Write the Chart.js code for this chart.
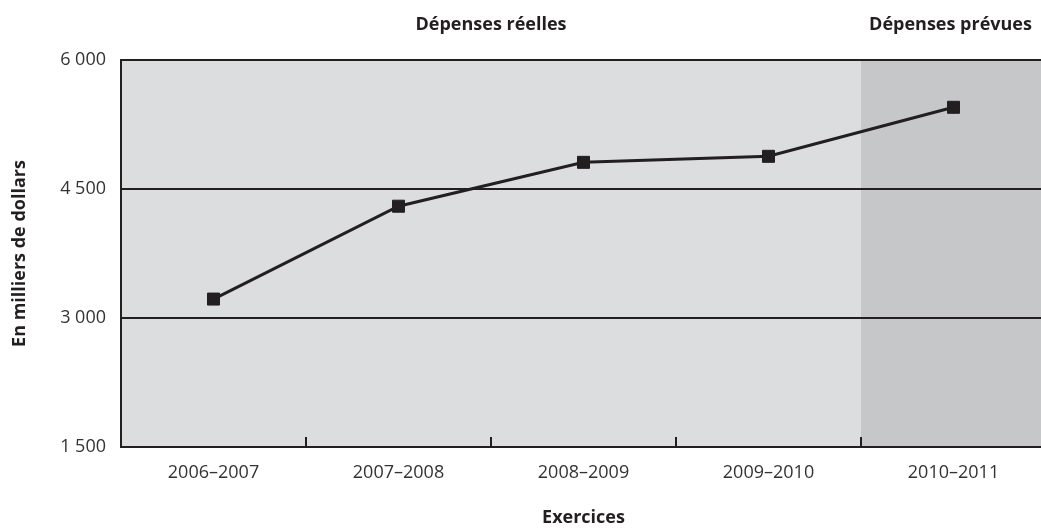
<!DOCTYPE html>
<html lang="fr">
<head>
<meta charset="utf-8">
<title>Dépenses réelles et prévues</title>
<script src="https://cdn.jsdelivr.net/npm/chart.js@4/dist/chart.umd.min.js"></script>
<style>
  html, body { margin: 0; padding: 0; background: #ffffff; overflow: hidden; }
  canvas { display: block; }
</style>
</head>
<body>
<canvas id="chart" width="1046" height="529"></canvas>
<script>
// Fiscal years and spending (thousands of dollars)
const exercices = ['2006–2007', '2007–2008', '2008–2009', '2009–2010', '2010–2011'];
const depenses = [3220, 4300, 4810, 4880, 5450];
// Value-axis ticks
const yTicks = [1500, 3000, 4500, 6000];
// First year that is planned rather than actual
const premierExercicePrevu = '2010–2011';
const enTetes = ['Dépenses réelles', 'Dépenses prévues'];

const INK = '#231f20';
const FONT = "'Open Sans', 'Liberation Sans', sans-serif";

const formatMillier = v => String(v).replace(/\B(?=(\d{3})+(?!\d))/g, ' ');

// Boundary pixel between two neighbouring categories
function frontiere(xs, i) {
  return (xs.getPixelForValue(i) + xs.getPixelForValue(i + 1)) / 2;
}

const fondPlugin = {
  id: 'fond',
  beforeDraw(chart) {
    const { ctx, chartArea: a, scales: { x } } = chart;
    const k = exercices.indexOf(premierExercicePrevu);
    const split = frontiere(x, k - 1);
    ctx.save();
    ctx.fillStyle = '#dcdddf';
    ctx.fillRect(a.left, a.top, split - a.left, a.bottom - a.top);
    ctx.fillStyle = '#c6c7c9';
    ctx.fillRect(split, a.top, a.right - split, a.bottom - a.top);
    ctx.restore();
  },
  afterDraw(chart) {
    const { ctx, chartArea: a, scales: { x } } = chart;
    const k = exercices.indexOf(premierExercicePrevu);
    const split = frontiere(x, k - 1);
    ctx.save();
    // inward tick marks at category boundaries
    ctx.strokeStyle = INK;
    ctx.lineWidth = 2;
    for (let i = 0; i < exercices.length - 1; i++) {
      const px = Math.round(frontiere(x, i));
      ctx.beginPath();
      ctx.moveTo(px, a.bottom);
      ctx.lineTo(px, a.bottom - 10);
      ctx.stroke();
    }
    // section headers
    ctx.fillStyle = INK;
    ctx.font = `bold 18px ${FONT}`;
    ctx.textAlign = 'center';
    ctx.textBaseline = 'middle';
    ctx.fillText(enTetes[0], (a.left + split) / 2, 25);
    ctx.fillText(enTetes[1], (split + a.right) / 2 - 3, 25);
    ctx.restore();
  }
};

new Chart(document.getElementById('chart'), {
  type: 'line',
  data: {
    labels: exercices,
    datasets: [{
      data: depenses,
      borderColor: INK,
      borderWidth: 3,
      backgroundColor: INK,
      pointStyle: 'rect',
      pointRadius: 8.5,
      pointBorderWidth: 1,
      pointBorderColor: INK,
      pointBackgroundColor: INK,
      tension: 0,
      fill: false
    }]
  },
  options: {
    responsive: false,
    animation: false,
    devicePixelRatio: 1,
    layout: { autoPadding: false, padding: { top: 60, right: 0, left: 0, bottom: 0 } },
    plugins: { legend: { display: false }, tooltip: { enabled: false } },
    scales: {
      x: {
        type: 'category',
        offset: true,
        grid: { display: false, drawTicks: false },
        border: { display: true, color: INK, width: 2 },
        ticks: { color: '#333', font: { family: FONT, size: 18 }, padding: 15, maxRotation: 0 },
        title: { display: true, text: 'Exercices', color: INK,
                 font: { family: FONT, size: 18, weight: 'bold' }, padding: { top: 20, bottom: 0 } },
        afterFit(s) { s.height = 82; s.paddingLeft = 0; s.paddingRight = 0; }
      },
      y: {
        min: 1500,
        max: 6000,
        afterBuildTicks(s) { s.ticks = yTicks.map(v => ({ value: v })); },
        grid: { color: INK, lineWidth: 2, drawTicks: false },
        border: { display: true, color: INK, width: 2 },
        ticks: { color: '#333', font: { family: FONT, size: 18 }, padding: 15,
                 callback: v => formatMillier(v) },
        title: { display: true, text: 'En milliers de dollars', color: INK,
                 font: { family: FONT, size: 18, weight: 'bold' }, padding: { top: 9, bottom: 0 } },
        afterFit(s) { s.width = 121; s.paddingTop = 0; s.paddingBottom = 0; }
      }
    }
  },
  plugins: [fondPlugin]
});
</script>
</body>
</html>
